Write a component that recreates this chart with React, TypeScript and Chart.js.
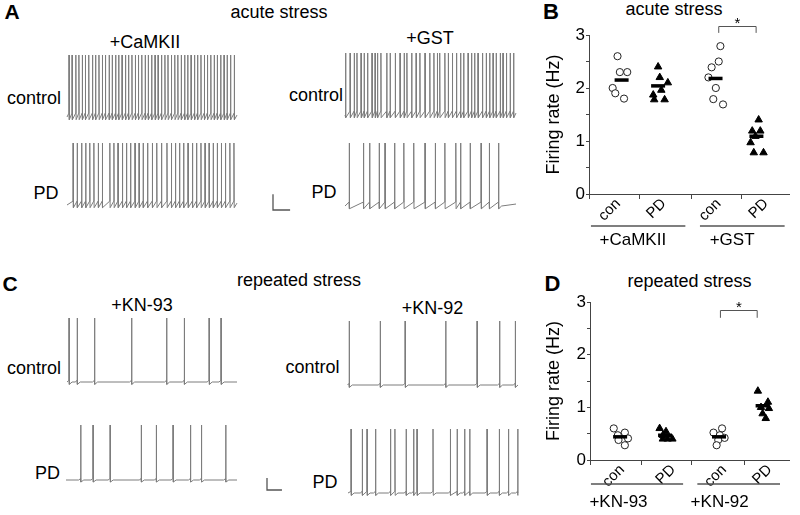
import React, { useEffect, useRef } from 'react';
import { Chart, registerables } from 'chart.js';

Chart.register(...registerables);

const FONT = '"Liberation Sans", Arial, Helvetica, sans-serif';

// ================= DATA =================
// Spike times (s) within each 25 s recording excerpt
const traceSeconds = 25;
const spikesCaMKIIControl = [0.3, 0.75, 1.3, 1.75, 2.25, 2.7, 3.2, 3.75, 4.2, 4.7, 5.2, 5.65, 6.2, 6.65, 7.15, 7.6, 8.1, 8.6, 9.05, 9.55, 10.05, 10.5, 11.0, 11.5, 11.95, 12.45, 12.95, 13.4, 13.9, 14.4, 14.85, 15.35, 15.85, 16.3, 16.8, 17.3, 17.75, 18.25, 18.75, 19.2, 19.7, 20.2, 20.65, 21.15, 21.65, 22.1, 22.6, 23.1, 23.55, 24.05, 24.6];
const spikesCaMKIIPD = [0.9, 1.5, 2.15, 2.75, 3.35, 3.95, 4.6, 5.2, 6.3, 6.9, 7.5, 8.15, 8.75, 9.35, 10.0, 10.6, 11.2, 11.85, 12.55, 13.2, 13.9, 14.7, 15.35, 15.95, 16.55, 17.15, 17.8, 18.45, 19.05, 19.7, 20.3, 20.9, 21.5, 22.1, 22.7, 23.3, 23.95, 24.55];
const spikesGSTControl = [0.1, 0.75, 1.35, 1.75, 2.35, 2.8, 3.3, 3.95, 4.4, 4.75, 5.25, 6.1, 6.6, 7.35, 8.05, 8.65, 9.05, 9.75, 10.4, 10.95, 11.7, 12.4, 13.0, 13.5, 13.85, 14.6, 15.1, 15.7, 16.3, 16.9, 17.35, 18.0, 18.5, 18.95, 19.45, 20.1, 20.65, 21.15, 21.65, 22.1, 22.7, 23.1, 23.6, 24.15, 24.65];
const spikesGSTPD = [0.62, 2.7, 3.6, 5.0, 5.85, 7.25, 8.6, 10.05, 11.7, 13.2, 14.6, 16.2, 16.9, 18.3, 19.9, 21.1, 22.45];
const spikesKN93Control = [0.3, 1.5, 4.05, 9.5, 14.65, 17.25, 20.9, 22.65];
const spikesKN93PD = [2.15, 3.95, 6.45, 11.0, 13.2, 15.65, 18.2, 19.8, 23.35];
const spikesKN92Control = [0.25, 4.8, 8.45, 14.4, 19.0, 22.3, 24.6];
const spikesKN92PD = [0.45, 2.1, 2.8, 4.05, 6.25, 6.9, 8.55, 9.65, 10.15, 12.5, 15.05, 16.05, 17.15, 17.9, 20.45, 22.25, 23.6, 24.95];

// membrane potential levels (mV)
const peakMV = 25;
const restMV = -55;
const thresholdMV = -50;
const ahpMV = -58.5;

// scale bars (mV, s)
const scaleBarAmV = 20;
const scaleBarAs = 2.5;
const scaleBarCmV = 15;
const scaleBarCs = 2.2;

// Firing rates (Hz)
const categoryLabels = ['con', 'PD', 'con', 'PD'];
const acuteGroupLabels = ['+CaMKII', '+GST'];
const repeatedGroupLabels = ['+KN-93', '+KN-92'];
const yAxisTitle = 'Firing rate (Hz)';

const acuteCaMKIIcon = [2.6, 2.3, 2.3, 2.0, 1.9, 1.8];
const acuteCaMKIIpd = [2.4, 2.2, 2.1, 1.96, 1.87, 1.78, 1.78];
const acuteGSTcon = [2.79, 2.5, 2.39, 2.2, 2.0, 1.79, 1.69];
const acuteGSTpd = [1.4, 1.19, 1.19, 1.09, 0.97, 0.78, 0.78];
const acuteMeans = [2.15, 2.04, 2.18, 1.09];

const repKN93con = [0.6, 0.52, 0.47, 0.41, 0.38, 0.28];
const repKN93pd = [0.6, 0.54, 0.47, 0.4, 0.4, 0.4];
const repKN92con = [0.6, 0.52, 0.47, 0.42, 0.38, 0.28];
const repKN92pd = [1.31, 1.1, 1.0, 0.98, 0.88, 0.79];
const repeatedMeans = [0.44, 0.47, 0.44, 1.03];

// ================= LAYOUT =================
// horizontal jitter of individual points (px)
const acuteJitter = [
  [-4.2, -1.8, 5.8, -9.2, -6.5, 2.5],
  [0, 1.7, 10, 3.3, -5, -4, 6.7],
  [5, 3.3, -4, -7.3, 0.3, -2.3, 7.7],
  [2.3, 4, -4.3, -1, -6, -2.7, 7.3],
];
const repeatedJitter = [
  [-6.7, 5, -2.4, 8.3, -1.7, 5],
  [-5.7, 1, -2.3, 7.7, 2.7, -2.3],
  [3.2, -5.8, 0.9, 5.9, -0.8, -2.5],
  [-5, 5.6, -1.7, 6.6, 0, 3.3],
];

type Pt = { x: number; y: number };

function buildTrace(spikes: number[], dense: boolean): Pt[] {
  const pts: Pt[] = [{ x: 0, y: restMV }];
  for (let i = 0; i < spikes.length; i++) {
    const t = spikes[i];
    if (!dense && i > 0) {
      const prev = spikes[i - 1];
      if (t - prev > 1.0) {
        pts.push({ x: prev + 0.45, y: restMV });
        pts.push({ x: t - 0.3, y: restMV });
      }
    } else if (!dense && i === 0 && t > 0.6) {
      pts.push({ x: t - 0.3, y: restMV });
    }
    pts.push({ x: t - 0.02, y: dense ? thresholdMV : restMV + 2 });
    pts.push({ x: t, y: peakMV });
    pts.push({ x: t + 0.04, y: dense ? ahpMV : restMV - 3 });
  }
  const last = spikes[spikes.length - 1];
  if (traceSeconds - last > 0.6) pts.push({ x: last + 0.45, y: restMV });
  pts.push({ x: traceSeconds, y: dense ? (restMV + thresholdMV) / 2 : restMV });
  return pts;
}

type Bar = { pageX: number; pageBottom: number; mV: number; s: number };
type TraceProps = { spikes: number[]; x0: number; x1: number; yTop: number; yBase: number; dense: boolean; bar?: Bar };

function TraceChart({ spikes, x0, x1, yTop, yBase, dense, bar }: TraceProps) {
  const ref = useRef<HTMLCanvasElement>(null);
  const pad = 3;
  const pxPerS = (x1 - x0) / traceSeconds;
  const mvPerPx = (peakMV - restMV) / (yBase - yTop);
  const leftPx = Math.round(bar ? bar.pageX - pad : x0 - pad);
  const rightPx = Math.round(x1 + pad);
  const topPx = Math.round(yTop - pad);
  const bottomPx = Math.round(Math.max(yBase, bar ? bar.pageBottom : 0) + 8);
  const w = rightPx - leftPx;
  const h = bottomPx - topPx;
  useEffect(() => {
    const canvas = ref.current;
    if (!canvas) return;
    const datasets: any[] = [
      { data: buildTrace(spikes, dense), showLine: true, borderColor: '#7d7d7d', borderWidth: 1, pointRadius: 0, clip: false },
    ];
    if (bar) {
      const bx = (bar.pageX - x0) / pxPerS;
      const by = restMV - (bar.pageBottom - yBase) * mvPerPx;
      datasets.push({
        data: [{ x: bx, y: by + bar.mV }, { x: bx, y: by }, { x: bx + bar.s, y: by }],
        showLine: true, borderColor: '#555', borderWidth: 1.3, pointRadius: 0, clip: false,
      });
    }
    const chart = new Chart(canvas, {
      type: 'scatter',
      data: { datasets },
      options: {
        animation: false,
        responsive: false,
        events: [],
        layout: { padding: 0 },
        plugins: { legend: { display: false }, tooltip: { enabled: false } },
        scales: {
          x: { type: 'linear', display: false, min: (leftPx - x0) / pxPerS, max: (rightPx - x0) / pxPerS },
          y: { type: 'linear', display: false, max: peakMV + (yTop - topPx) * mvPerPx, min: peakMV - (bottomPx - yTop) * mvPerPx },
        },
      } as any,
    });
    return () => chart.destroy();
  }, []);
  return <canvas ref={ref} width={w} height={h} style={{ position: 'absolute', left: leftPx, top: topPx, width: w, height: h }} />;
}

type RateProps = {
  left: number; top: number; width: number; height: number;
  padTop: number; padRight: number; yAxisWidth: number; xAxisHeight: number; xMax: number;
  catX: number[]; labelX: number[]; sepX: number[];
  groupSpans: number[][]; groupLabelX: number[]; groupLabels: string[];
  groupLineDy: number; groupLabelDy: number;
  bracketX: number[]; bracketY: number[];
  series: number[][]; means: number[]; jitter: number[][];
};

function RateChart(p: RateProps) {
  const ref = useRef<HTMLCanvasElement>(null);
  useEffect(() => {
    const canvas = ref.current;
    if (!canvas) return;
    const toPts = (k: number) => p.series[k].map((v, i) => ({ x: p.catX[k] + p.jitter[k][i] / 10, y: v }));
    const circle = { pointStyle: 'circle', pointRadius: 3.6, pointBorderWidth: 1, pointBorderColor: '#222', pointBackgroundColor: '#fff' };
    const tri = { pointStyle: 'triangle', pointRadius: 4.3, pointBorderWidth: 1, pointBorderColor: '#000', pointBackgroundColor: '#000' };
    const datasets: any[] = [
      { data: p.means.map((m, k) => ({ x: p.catX[k], y: m })), pointStyle: 'line', pointRadius: 7, pointBorderWidth: 3.5, pointBorderColor: '#000', pointBackgroundColor: '#000', clip: false },
      { data: toPts(0), ...circle, clip: false },
      { data: toPts(1), ...tri, clip: false },
      { data: toPts(2), ...circle, clip: false },
      { data: toPts(3), ...tri, clip: false },
    ];
    const decor = {
      id: 'decor',
      afterDraw(chart: any) {
        const { ctx, chartArea } = chart;
        const xs = chart.scales.x;
        const ys = chart.scales.y;
        ctx.save();
        ctx.strokeStyle = '#444';
        ctx.lineWidth = 1;
        p.sepX.forEach((v) => {
          const px = Math.round(xs.getPixelForValue(v)) + 0.5;
          ctx.beginPath();
          ctx.moveTo(px, chartArea.bottom);
          ctx.lineTo(px, chartArea.bottom + 5);
          ctx.stroke();
        });
        ctx.strokeStyle = '#555';
        ctx.lineWidth = 1.3;
        const gy = chartArea.bottom + p.groupLineDy;
        p.groupSpans.forEach(([a, b]) => {
          ctx.beginPath();
          ctx.moveTo(xs.getPixelForValue(a), gy);
          ctx.lineTo(xs.getPixelForValue(b), gy);
          ctx.stroke();
        });
        ctx.fillStyle = '#000';
        ctx.font = `17px ${FONT}`;
        ctx.textAlign = 'center';
        ctx.textBaseline = 'middle';
        p.groupLabels.forEach((g, i) => {
          ctx.fillText(g, xs.getPixelForValue(p.groupLabelX[i]), chartArea.bottom + p.groupLabelDy);
        });
        // significance bracket
        const bx1 = xs.getPixelForValue(p.bracketX[0]);
        const bx2 = xs.getPixelForValue(p.bracketX[1]);
        const byTop = Math.round(ys.getPixelForValue(p.bracketY[0])) + 0.5;
        const byLeg = ys.getPixelForValue(p.bracketY[1]);
        ctx.strokeStyle = '#555';
        ctx.lineWidth = 1;
        ctx.beginPath();
        ctx.moveTo(bx1, byLeg);
        ctx.lineTo(bx1, byTop);
        ctx.lineTo(bx2, byTop);
        ctx.lineTo(bx2, byLeg);
        ctx.stroke();
        ctx.font = `15px ${FONT}`;
        ctx.textBaseline = 'alphabetic';
        ctx.fillText('*', (bx1 + bx2) / 2, byTop + 1);
        ctx.restore();
      },
    };
    const chart = new Chart(canvas, {
      type: 'scatter',
      data: { datasets },
      options: {
        animation: false,
        responsive: false,
        events: [],
        layout: { padding: { top: p.padTop, right: p.padRight, left: 0, bottom: 0 } },
        plugins: { legend: { display: false }, tooltip: { enabled: false } },
        scales: {
          x: {
            type: 'linear', min: 0, max: p.xMax,
            afterBuildTicks: (s: any) => { s.ticks = p.labelX.map((v) => ({ value: v })); },
            afterFit: (s: any) => { s.height = p.xAxisHeight; },
            grid: { display: false, drawTicks: false, tickLength: 0 },
            border: { display: true, color: '#444', width: 1 },
            ticks: {
              autoSkip: false, minRotation: 45, maxRotation: 45, padding: 1,
              color: '#000', font: { family: FONT, size: 15 },
              callback: (_v: any, i: number) => categoryLabels[i],
            },
          },
          y: {
            type: 'linear', min: 0, max: 3,
            afterFit: (s: any) => { s.width = p.yAxisWidth; },
            grid: { display: true, drawOnChartArea: false, drawTicks: true, tickLength: 3, color: '#444' },
            border: { display: true, color: '#444', width: 1 },
            ticks: {
              stepSize: 0.5, autoSkip: false, padding: 1, color: '#000',
              font: { family: FONT, size: 17 },
              callback: (v: any) => (Number.isInteger(v) ? String(v) : ''),
            },
            title: { display: true, text: yAxisTitle, color: '#000', font: { family: FONT, size: 18 }, padding: { top: 13, bottom: 0 } },
          },
        },
      } as any,
      plugins: [decor],
    });
    return () => chart.destroy();
  }, []);
  return <canvas ref={ref} width={p.width} height={p.height} style={{ position: 'absolute', left: p.left, top: p.top, width: p.width, height: p.height }} />;
}

const textLabels = [
  { t: 'A', x: 12, y: 11, s: 21, b: true },
  { t: 'acute stress', x: 279, y: 12, s: 18 },
  { t: '+CaMKII', x: 145, y: 42, s: 18 },
  { t: 'control', x: 34, y: 98, s: 18 },
  { t: 'PD', x: 46, y: 193, s: 18 },
  { t: '+GST', x: 430, y: 38, s: 18 },
  { t: 'control', x: 316, y: 95, s: 18 },
  { t: 'PD', x: 324, y: 192, s: 18 },
  { t: 'B', x: 551, y: 12, s: 22, b: true },
  { t: 'acute stress', x: 674, y: 9, s: 18 },
  { t: 'C', x: 10, y: 283, s: 21, b: true },
  { t: 'repeated stress', x: 299, y: 280, s: 18 },
  { t: '+KN-93', x: 142, y: 305, s: 18 },
  { t: 'control', x: 34, y: 368, s: 18 },
  { t: 'PD', x: 47.5, y: 473, s: 18 },
  { t: '+KN-92', x: 432.5, y: 308, s: 18 },
  { t: 'control', x: 312.5, y: 367, s: 18 },
  { t: 'PD', x: 325, y: 482, s: 18 },
  { t: 'D', x: 552.5, y: 284, s: 22, b: true },
  { t: 'repeated stress', x: 689.5, y: 280.5, s: 18 },
];

export default function App() {
  return (
    <div style={{ position: 'absolute', left: 0, top: 0, width: 800, height: 515, background: '#fff', overflow: 'hidden', fontFamily: FONT, color: '#000' }}>
      {textLabels.map((l, i) => (
        <div key={i} style={{
          position: 'absolute', left: l.x, top: l.y, transform: 'translate(-50%, -50%)',
          fontSize: l.s, lineHeight: `${l.s}px`, fontWeight: l.b ? 'bold' : 'normal', whiteSpace: 'nowrap',
        }}>{l.t}</div>
      ))}
      <TraceChart spikes={spikesCaMKIIControl} x0={67} x1={237} yTop={55} yBase={117} dense />
      <TraceChart spikes={spikesCaMKIIPD} x0={67} x1={237} yTop={143} yBase={205} dense />
      <TraceChart spikes={spikesGSTControl} x0={345} x1={516} yTop={53} yBase={115} dense />
      <TraceChart spikes={spikesGSTPD} x0={345} x1={516} yTop={143} yBase={206} dense
        bar={{ pageX: 273, pageBottom: 210, mV: scaleBarAmV, s: scaleBarAs }} />
      <TraceChart spikes={spikesKN93Control} x0={67} x1={237} yTop={318} yBase={382} dense={false} />
      <TraceChart spikes={spikesKN93PD} x0={66} x1={237} yTop={425} yBase={480} dense={false} />
      <TraceChart spikes={spikesKN92Control} x0={347.5} x1={518} yTop={321} yBase={385} dense={false} />
      <TraceChart spikes={spikesKN92PD} x0={348} x1={518} yTop={429} yBase={493} dense={false}
        bar={{ pageX: 267, pageBottom: 490, mV: scaleBarCmV, s: scaleBarCs }} />
      <RateChart
        left={530} top={0} width={270} height={255}
        padTop={35} padRight={5} yAxisWidth={59} xAxisHeight={61} xMax={20.6}
        catX={[3.35, 7.1, 13.0, 17.2]} labelX={[2.99, 7.68, 13.32, 18.18]} sepX={[0, 5.1, 10.5, 15.6]}
        groupSpans={[[0.2, 9.9], [11.4, 20.1]]} groupLabelX={[4.5, 14.7]} groupLabels={acuteGroupLabels}
        groupLineDy={32} groupLabelDy={46}
        bracketX={[13.33, 17.17]} bracketY={[3.17, 3.04]}
        series={[acuteCaMKIIcon, acuteCaMKIIpd, acuteGSTcon, acuteGSTpd]} means={acuteMeans} jitter={acuteJitter}
      />
      <RateChart
        left={530} top={255} width={270} height={260}
        padTop={47} padRight={0} yAxisWidth={60} xAxisHeight={55} xMax={21.0}
        catX={[3.17, 7.9, 13.58, 18.17]} labelX={[3.39, 8.75, 14.12, 18.92]} sepX={[0, 5.33, 10.67, 16.17]}
        groupSpans={[[0.1, 9.8], [11.3, 20.0]]} groupLabelX={[3.0, 13.65]} groupLabels={repeatedGroupLabels}
        groupLineDy={24} groupLabelDy={42.5}
        bracketX={[13.73, 17.6]} bracketY={[2.84, 2.70]}
        series={[repKN93con, repKN93pd, repKN92con, repKN92pd]} means={repeatedMeans} jitter={repeatedJitter}
      />
    </div>
  );
}
